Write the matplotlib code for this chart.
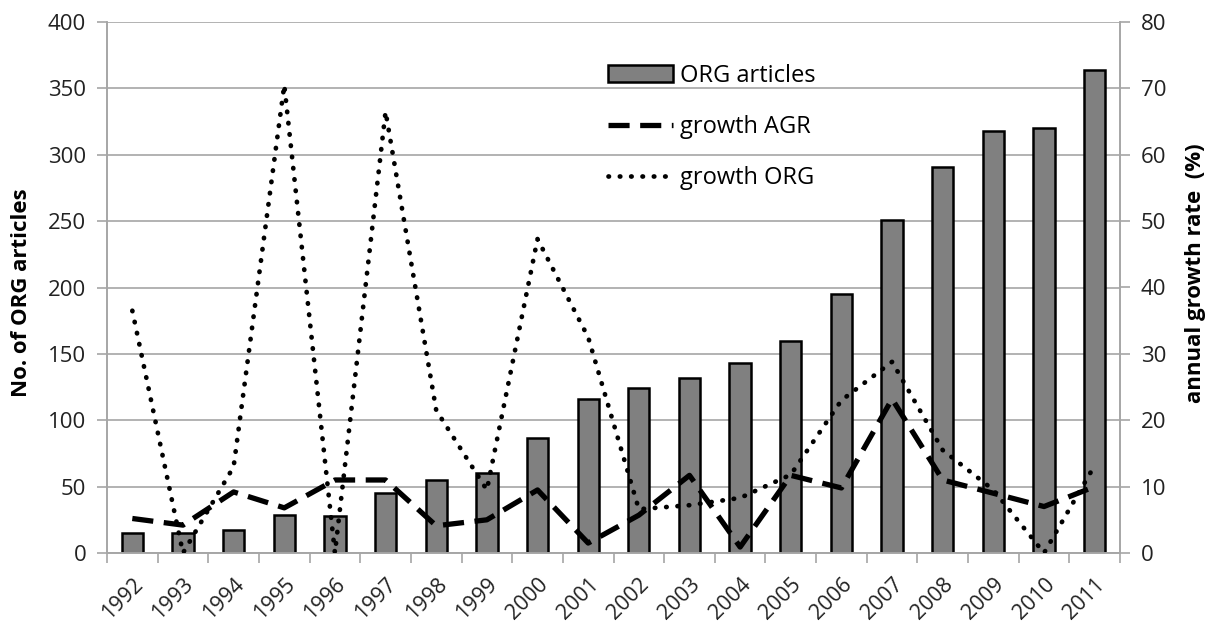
import numpy as np
import matplotlib
matplotlib.use("Agg")
from matplotlib import pyplot as plt
from matplotlib.transforms import ScaledTranslation

plt.rcParams['font.family'] = ['Open Sans', 'DejaVu Sans']

years = [str(y) for y in range(1992, 2012)]
org_articles = [15, 15, 17, 29, 28, 45, 55, 60, 87, 116,
                124, 132, 143, 160, 195, 251, 291, 318, 320, 364]
growth_agr = [5.2, 4.2, 9.2, 6.8, 11.0, 11.0, 4.1, 5.0, 9.5, 1.5,
              5.7, 11.7, 0.9, 11.7, 9.8, 23.2, 11.0, 9.0, 7.0, 10.0]
growth_org = [36.5, 0.0, 13.0, 70.5, 0.0, 66.5, 21.5, 9.5, 47.3, 32.5,
              6.6, 7.2, 8.3, 11.8, 23.0, 28.8, 15.5, 9.5, 0.0, 13.2]

grey = '#a6a6a6'

fig = plt.figure(figsize=(12.08, 6.28), dpi=100)
ax = fig.add_axes([107/1208, 1-553/628, (1120-107)/1208, (553-22)/628])
ax2 = ax.twinx()

x = np.arange(len(years))

ax.set_axisbelow(True)
ax.yaxis.grid(True, color=grey, linewidth=1.2)
bars = ax.bar(x, org_articles, width=0.42, color='#808080', edgecolor='black',
              linewidth=1.8, label='ORG articles', zorder=2)

l1, = ax2.plot(x, growth_agr, color='black', linewidth=3.8,
               linestyle=(0, (4.0, 2.0)), label='growth AGR', zorder=3)
l2, = ax2.plot(x, growth_org, color='black', linewidth=3.4,
               linestyle=(0, (0.1, 2.3)), dash_capstyle='round',
               label='growth ORG', zorder=3)

ax.set_xlim(-0.5, len(years) - 0.5)
ax.set_ylim(0, 400)
ax2.set_ylim(0, 80)
ax.set_yticks(np.arange(0, 401, 50))
ax2.set_yticks(np.arange(0, 81, 10))

# tick marks at category boundaries, labels at centres
ax.set_xticks(np.arange(-0.5, len(years), 1.0))
ax.set_xticklabels([])
ax.set_xticks(x, minor=True)
ax.set_xticklabels(years, minor=True, rotation=45, ha='right',
                   rotation_mode='anchor', fontsize=15.5, color='#222222')
shift = ScaledTranslation(6/100, 0, fig.dpi_scale_trans)
for lab in ax.get_xticklabels(minor=True):
    lab.set_transform(lab.get_transform() + shift)
ax.tick_params(axis='x', which='minor', length=0, pad=15)
ax.tick_params(axis='x', which='major', length=7, color=grey, width=1.2)
ax.tick_params(axis='y', length=7, color=grey, width=1.2, labelsize=16,
               labelcolor='#222222', pad=8)
ax2.tick_params(axis='y', length=7, color=grey, width=1.2, labelsize=16,
                labelcolor='#222222', pad=8)

for a in (ax, ax2):
    a.spines['top'].set_visible(False)
    for s in ('left', 'right', 'bottom'):
        a.spines[s].set_color(grey)
        a.spines[s].set_linewidth(1.2)

fig.text(22/1208, 1 - 293/628, 'No. of ORG articles', rotation=90,
         ha='center', va='center', fontsize=16, fontweight='bold')
fig.text(1195/1208, 1 - 273/628, 'annual growth rate  (%)', rotation=90,
         ha='center', va='center', fontsize=16, fontweight='bold')

ax2.legend([bars, l1, l2], ['ORG articles', 'growth AGR', 'growth ORG'],
           loc='upper left', bbox_to_anchor=(596/1208, 1 - 52/628),
           bbox_transform=fig.transFigure, borderpad=0, frameon=False,
           fontsize=17, labelspacing=1.15, handlelength=2.75,
           handletextpad=0.3)

fig.savefig('out.png', dpi=100)
